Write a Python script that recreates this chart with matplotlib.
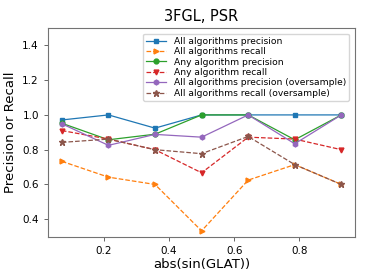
import matplotlib
matplotlib.use("Agg")
import matplotlib.pyplot as plt

x = [0.0714, 0.2143, 0.3571, 0.5, 0.6429, 0.7857, 0.9286]

all_prec = [0.971, 1.0, 0.924, 1.0, 1.0, 1.0, 1.0]
all_rec = [0.733, 0.642, 0.6, 0.333, 0.625, 0.714, 0.6]
any_prec = [0.952, 0.857, 0.889, 1.0, 1.0, 0.857, 1.0]
any_rec = [0.91, 0.861, 0.8, 0.667, 0.872, 0.861, 0.8]
all_prec_os = [0.949, 0.825, 0.888, 0.872, 1.0, 0.834, 1.0]
all_rec_os = [0.842, 0.861, 0.8, 0.777, 0.876, 0.714, 0.6]

fig, ax = plt.subplots(figsize=(3.74, 2.8), dpi=100)

ms = 3.5
ax.plot(x, all_prec, '-', marker='s', markersize=ms, linewidth=0.9, label='All algorithms precision')
ax.plot(x, all_rec, '--', marker='>', markersize=ms, linewidth=0.9, label='All algorithms recall')
ax.plot(x, any_prec, '-', marker='o', markersize=ms, linewidth=0.9, label='Any algorithm precision')
ax.plot(x, any_rec, '--', marker='v', markersize=ms, linewidth=0.9, label='Any algorithm recall')
ax.plot(x, all_prec_os, '-', marker='h', markersize=ms, linewidth=0.9, label='All algorithms precision (oversample)')
ax.plot(x, all_rec_os, '--', marker='*', markersize=ms + 1, linewidth=0.9, label='All algorithms recall (oversample)')

ax.set_ylim(0.3, 1.5)
ax.set_title('3FGL, PSR', fontsize=10.5, pad=5)
ax.set_xlabel('abs(sin(GLAT))', fontsize=9.5, labelpad=2)
ax.set_ylabel('Precision or Recall', fontsize=9.5)
ax.tick_params(labelsize=7.5, width=0.6, length=3, color='0.3')
for s in ax.spines.values():
    s.set_color('0.45')
    s.set_linewidth(0.8)
ax.legend(loc='upper right', fontsize=6.6, handlelength=2.2, labelspacing=0.15,
          borderpad=0.35, bbox_to_anchor=(0.995, 0.995))

plt.subplots_adjust(left=0.128, right=0.95, bottom=0.155, top=0.9)
fig.savefig('out.png', dpi=100)
